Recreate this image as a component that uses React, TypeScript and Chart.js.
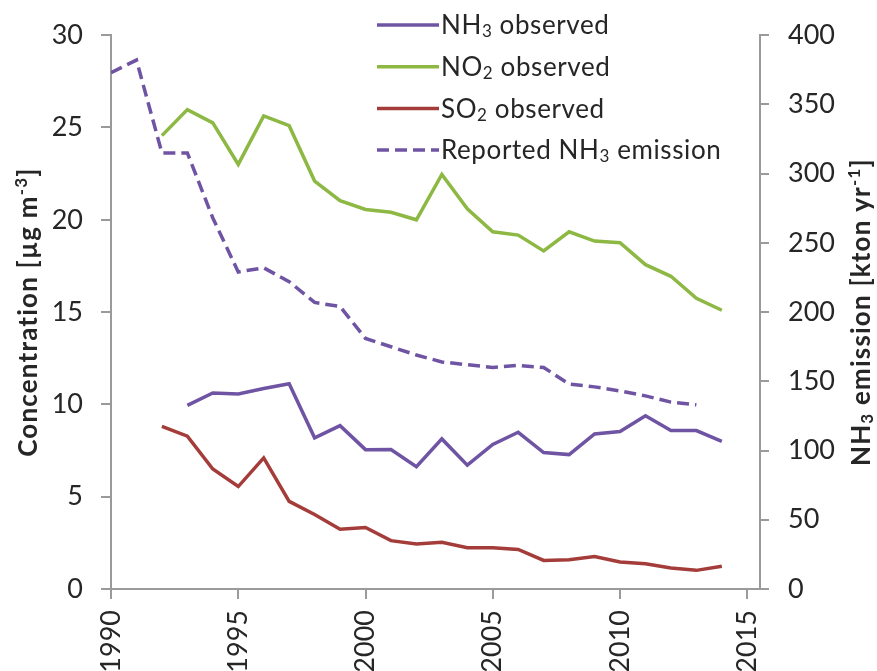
import React, { useEffect, useRef } from 'react';
import { Chart, registerables } from 'chart.js';

Chart.register(...registerables);

// ---------- data ----------
const emissionYears = [1990, 1991, 1992, 1993, 1994, 1995, 1996, 1997, 1998, 1999, 2000, 2001, 2002, 2003, 2004, 2005, 2006, 2007, 2008, 2009, 2010, 2011, 2012, 2013];
const emissionValues = [373, 382, 315, 315, 268, 229, 232, 222, 207, 204, 181, 175, 169, 164, 162, 160, 161.5, 160, 148, 146, 143, 139.5, 135, 133];

const no2Years = [1992, 1993, 1994, 1995, 1996, 1997, 1998, 1999, 2000, 2001, 2002, 2003, 2004, 2005, 2006, 2007, 2008, 2009, 2010, 2011, 2012, 2013, 2014];
const no2Values = [24.56, 25.97, 25.25, 23.0, 25.63, 25.1, 22.1, 21.04, 20.56, 20.41, 20.0, 22.46, 20.6, 19.35, 19.17, 18.31, 19.35, 18.85, 18.76, 17.57, 16.94, 15.75, 15.1];

const nh3Years = [1993, 1994, 1995, 1996, 1997, 1998, 1999, 2000, 2001, 2002, 2003, 2004, 2005, 2006, 2007, 2008, 2009, 2010, 2011, 2012, 2013, 2014];
const nh3Values = [9.95, 10.62, 10.57, 10.86, 11.12, 8.19, 8.85, 7.55, 7.56, 6.62, 8.13, 6.71, 7.83, 8.49, 7.39, 7.28, 8.4, 8.53, 9.38, 8.58, 8.58, 8.0];

const so2Years = [1992, 1993, 1994, 1995, 1996, 1997, 1998, 1999, 2000, 2001, 2002, 2003, 2004, 2005, 2006, 2007, 2008, 2009, 2010, 2011, 2012, 2013, 2014];
const so2Values = [8.81, 8.28, 6.5, 5.55, 7.1, 4.75, 4.04, 3.24, 3.33, 2.62, 2.44, 2.53, 2.23, 2.23, 2.14, 1.55, 1.58, 1.76, 1.46, 1.37, 1.14, 1.01, 1.23];

const xTicks = [1990, 1995, 2000, 2005, 2010, 2015];
const leftTicks = [0, 5, 10, 15, 20, 25, 30];
const rightTicks = [0, 50, 100, 150, 200, 250, 300, 350, 400];

const seriesLabels = ['NH₃ observed', 'NO₂ observed', 'SO₂ observed', 'Reported NH₃ emission'];
const leftTitle = 'Concentration [µg m⁻³]';
const rightTitle = 'NH₃ emission [kton yr⁻¹]';

// ---------- styles ----------
const PURPLE = '#7054a4';
const GREEN = '#8cb843';
const RED = '#a43c3a';
const AXIS = '#9a9a9a';
const TEXT = '#262626';
const FONT = 'Lato';

const SUB: Record<string, string> = { '₀': '0', '₁': '1', '₂': '2', '₃': '3', '₄': '4' };
const SUP: Record<string, string> = { '⁻': '-', '¹': '1', '²': '2', '³': '3' };

function runs(text: string) {
  const out: { t: string; k: 'n' | 'sub' | 'sup' }[] = [];
  for (const ch of text) {
    let k: 'n' | 'sub' | 'sup' = 'n';
    let c = ch;
    if (SUB[ch]) { k = 'sub'; c = SUB[ch]; }
    else if (SUP[ch]) { k = 'sup'; c = SUP[ch]; }
    const last = out[out.length - 1];
    if (last && last.k === k) last.t += c;
    else out.push({ t: c, k });
  }
  return out;
}

function drawRich(ctx: CanvasRenderingContext2D, text: string, x: number, y: number, size: number, bold: boolean, align: 'left' | 'center', spacing: number) {
  const rs = runs(text);
  const w = bold ? 'bold ' : '';
  const fontFor = (k: string) => `${w}${k === 'n' ? size : Math.round(size * 0.66)}px ${FONT}`;
  (ctx as any).letterSpacing = `${spacing}px`;
  let total = 0;
  for (const r of rs) { ctx.font = fontFor(r.k); total += ctx.measureText(r.t).width; }
  let cx = align === 'center' ? x - total / 2 : x;
  ctx.textAlign = 'left';
  ctx.textBaseline = 'middle';
  ctx.fillStyle = TEXT;
  for (const r of rs) {
    ctx.font = fontFor(r.k);
    const dy = r.k === 'sub' ? size * 0.22 : r.k === 'sup' ? -size * 0.3 : 0;
    ctx.fillText(r.t, cx, y + dy);
    cx += ctx.measureText(r.t).width;
  }
  (ctx as any).letterSpacing = '0px';
}

const overlayPlugin = {
  id: 'overlay',
  afterDraw(chart: any) {
    const ctx: CanvasRenderingContext2D = chart.ctx;
    const area = chart.chartArea;
    const midY = (area.top + area.bottom) / 2;
    // legend
    chart.data.datasets.forEach((ds: any, i: number) => {
      const y = 25 + i * 41.7;
      ctx.save();
      ctx.strokeStyle = ds.borderColor;
      ctx.lineWidth = 3.5;
      ctx.setLineDash(ds.borderDash || []);
      ctx.beginPath();
      ctx.moveTo(377, y);
      ctx.lineTo(439, y);
      ctx.stroke();
      ctx.restore();
      ctx.save();
      drawRich(ctx, ds.label, 441, y + 1, 26, false, 'left', 0.6);
      ctx.restore();
    });
    // axis titles
    ctx.save();
    ctx.translate(29, midY);
    ctx.rotate(-Math.PI / 2);
    drawRich(ctx, leftTitle, 0, 0, 26, true, 'center', 1.2);
    ctx.restore();
    ctx.save();
    ctx.translate(862, midY);
    ctx.rotate(-Math.PI / 2);
    drawRich(ctx, rightTitle, 0, 0, 26, true, 'center', 1.2);
    ctx.restore();
  },
};

const pts = (xs: number[], ys: number[]) => xs.map((x, i) => ({ x, y: ys[i] }));

export default function App() {
  const ref = useRef<HTMLCanvasElement>(null);
  useEffect(() => {
    if (!ref.current) return;
    const tickFont = { family: FONT, size: 27 };
    const fmt = (v: any) => String(v);
    const chart = new Chart(ref.current, {
      type: 'line',
      data: {
        datasets: [
          { label: seriesLabels[0], data: pts(nh3Years, nh3Values), borderColor: PURPLE, yAxisID: 'y' },
          { label: seriesLabels[1], data: pts(no2Years, no2Values), borderColor: GREEN, yAxisID: 'y' },
          { label: seriesLabels[2], data: pts(so2Years, so2Values), borderColor: RED, yAxisID: 'y' },
          { label: seriesLabels[3], data: pts(emissionYears, emissionValues), borderColor: PURPLE, borderDash: [12, 6], yAxisID: 'y2' },
        ] as any,
      },
      options: {
        animation: false,
        responsive: false,
        devicePixelRatio: 1,
        layout: { padding: { top: 27, left: 0, right: 0, bottom: 0 } },
        elements: {
          line: { borderWidth: 3.5, tension: 0, borderCapStyle: 'butt', borderJoinStyle: 'miter' },
          point: { radius: 0, hoverRadius: 0 },
        },
        plugins: { legend: { display: false }, tooltip: { enabled: false } },
        scales: {
          x: {
            type: 'linear',
            min: 1990,
            max: 2015.5,
            afterBuildTicks: (s: any) => { s.ticks = xTicks.map((v) => ({ value: v })); },
            afterFit: (s: any) => { s.height = 82; },
            ticks: { font: tickFont, color: TEXT, minRotation: 90, maxRotation: 90, padding: 11, autoSkip: false, callback: fmt },
            grid: { drawOnChartArea: false, drawTicks: true, tickLength: 10, color: AXIS, lineWidth: 2 },
            border: { display: true, color: AXIS, width: 2 },
          },
          y: {
            type: 'linear',
            position: 'left',
            min: 0,
            max: 30,
            afterBuildTicks: (s: any) => { s.ticks = leftTicks.map((v) => ({ value: v })); },
            afterFit: (s: any) => { s.width = 111; },
            ticks: { font: tickFont, color: TEXT, padding: 18, callback: fmt },
            grid: { drawOnChartArea: false, drawTicks: true, tickLength: 10, color: AXIS, lineWidth: 2 },
            border: { display: true, color: AXIS, width: 2 },
          },
          y2: {
            type: 'linear',
            position: 'right',
            min: 0,
            max: 400,
            afterBuildTicks: (s: any) => { s.ticks = rightTicks.map((v) => ({ value: v })); },
            afterFit: (s: any) => { s.width = 117; },
            ticks: { font: tickFont, color: TEXT, padding: 19, callback: fmt },
            grid: { drawOnChartArea: false, drawTicks: true, tickLength: 9, color: AXIS, lineWidth: 2 },
            border: { display: true, color: AXIS, width: 2 },
          },
        },
      } as any,
      plugins: [overlayPlugin],
    });
    return () => chart.destroy();
  }, []);
  return (
    <div style={{ position: 'absolute', left: 0, top: 0, width: 877, height: 671, background: '#fff' }}>
      <canvas ref={ref} width={877} height={671} />
    </div>
  );
}
